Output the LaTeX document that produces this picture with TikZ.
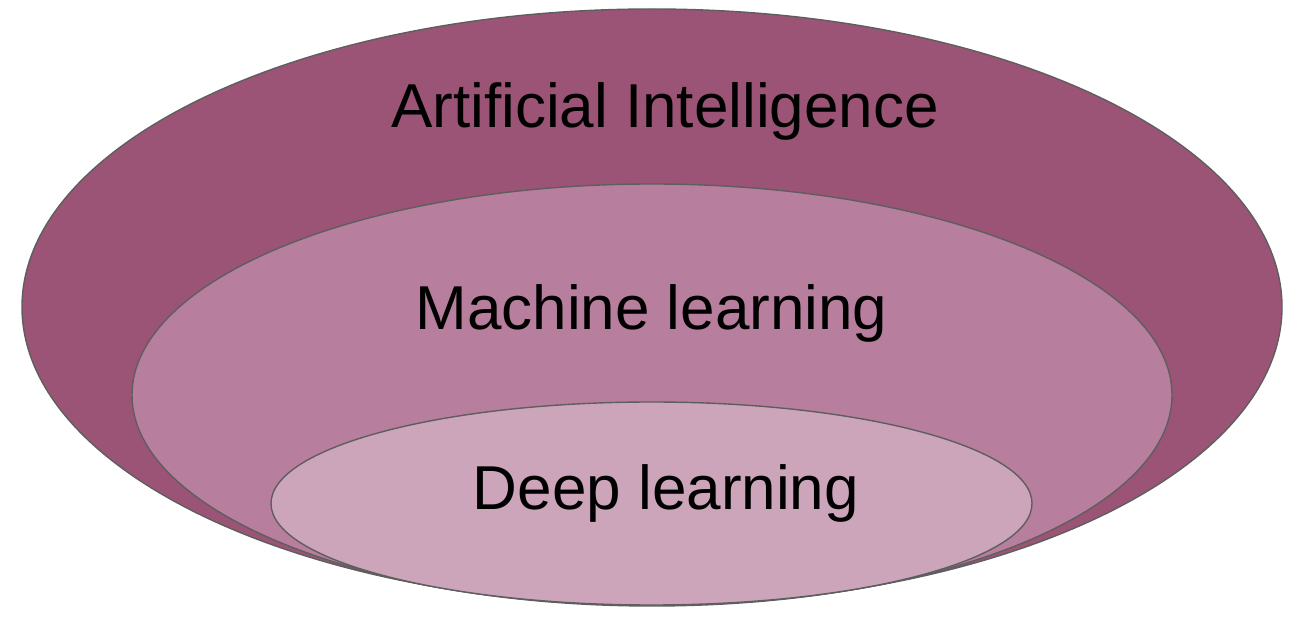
\documentclass[tikz,border=0pt]{standalone}
\usepackage{fontspec}
\setmainfont{Liberation Sans}
\definecolor{aicol}{HTML}{9B5475}
\definecolor{mlcol}{HTML}{B77F9D}
\definecolor{dlcol}{HTML}{CDA5BB}
\definecolor{edgecol}{HTML}{5E5E5E}
\begin{document}
\begin{tikzpicture}[x=1pt,y=1pt,
  ring/.style={draw=edgecol,line width=1.4pt},
  lbl/.style={font=\fontsize{62}{70}\selectfont,anchor=base,inner sep=0pt,text=black}]
\useasboundingbox (0,0) rectangle (1308,618);
\path[ring,fill=aicol] (652,311) ellipse [x radius=630, y radius=298];
\path[ring,fill=mlcol] (652,223) ellipse [x radius=520, y radius=211];
\path[ring,fill=dlcol] (651.5,114.5) ellipse [x radius=380.5, y radius=101.5];
\node[lbl] (ai) at (665,490) {Artificial Intelligence};
\node[lbl] (ml) at (651.5,288) {Machine learning};
\node[lbl] (dl) at (666,108) {Deep learning};
\end{tikzpicture}
\end{document}
